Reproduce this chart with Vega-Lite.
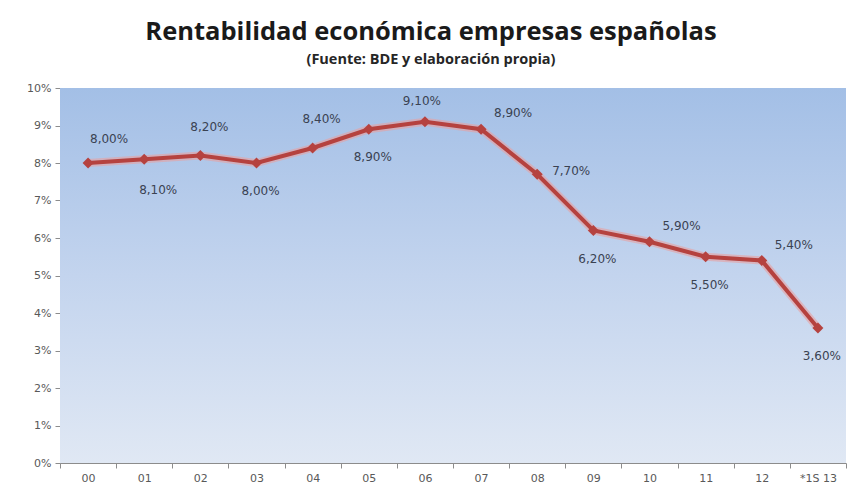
{
  "$schema": "https://vega.github.io/schema/vega-lite/v6.json",
  "width": 786,
  "height": 375,
  "autosize": {"type": "none"},
  "padding": {"left": 60, "top": 88, "right": 1, "bottom": 31},
  "background": "white",
  "config": {
    "locale": {"number": {"decimal": ",", "thousands": ".", "grouping": [3], "currency": ["", " €"]}},
    "view": {"stroke": null},
    "axis": {"domainColor": "#8c8c8c", "tickColor": "#8c8c8c", "labelColor": "#595959", "labelFont": "DejaVu Sans", "labelFontSize": 11, "grid": false, "title": null, "tickSize": 5}
  },
  "title": {
    "text": "Rentabilidad económica empresas españolas",
    "subtitle": "(Fuente: BDE y elaboración propia)",
    "font": "Open Sans",
    "fontSize": 25.5,
    "fontWeight": "bold",
    "color": "#1a1a1a",
    "subtitleFont": "Open Sans",
    "subtitleFontSize": 14.5,
    "subtitleFontWeight": "bold",
    "subtitleColor": "#262626",
    "subtitlePadding": 7,
    "anchor": "middle",
    "dx": -22,
    "offset": 16
  },
  "data": {
    "values": [
      {"year": "00", "value": 0.080},
      {"year": "01", "value": 0.081},
      {"year": "02", "value": 0.082},
      {"year": "03", "value": 0.080},
      {"year": "04", "value": 0.084},
      {"year": "05", "value": 0.089},
      {"year": "06", "value": 0.091},
      {"year": "07", "value": 0.089},
      {"year": "08", "value": 0.077},
      {"year": "09", "value": 0.062},
      {"year": "10", "value": 0.059},
      {"year": "11", "value": 0.055},
      {"year": "12", "value": 0.054},
      {"year": "*1S 13", "value": 0.036}
    ]
  },
  "encoding": {
    "x": {"field": "year", "type": "nominal", "sort": null,
      "scale": {"type": "band", "paddingInner": 0, "paddingOuter": 0},
      "axis": {"labelAngle": 0, "tickBand": "extent", "labelPadding": 4}},
    "y": {"field": "value", "type": "quantitative",
      "scale": {"domain": [0, 0.1], "nice": false},
      "axis": {"format": ".0%", "values": [0, 0.01, 0.02, 0.03, 0.04, 0.05, 0.06, 0.07, 0.08, 0.09, 0.1], "labelPadding": 4}}
  },
  "layer": [
    {
      "mark": {"type": "rect", "color": {"gradient": "linear", "x1": 0, "y1": 0, "x2": 0, "y2": 1,
        "stops": [{"offset": 0, "color": "#a3bfe6"}, {"offset": 0.5, "color": "#c3d4ee"}, {"offset": 1, "color": "#e0e8f4"}]}},
      "encoding": {"x": null, "y": {"datum": 0.1, "type": "quantitative"}, "y2": {"datum": 0}}
    },
    {"mark": {"type": "line", "color": "#e8a0a0", "strokeWidth": 8, "opacity": 0.6}},
    {"mark": {"type": "line", "color": "#b5423f", "strokeWidth": 4}},
    {"mark": {"type": "point", "shape": "diamond", "filled": true, "color": "#b5423f", "size": 120, "opacity": 1}},
    {
      "transform": [{"filter": {"field": "year", "oneOf": ["00"]}}],
      "mark": {"type": "text", "dx": 21, "dy": -24, "font": "DejaVu Sans", "fontSize": 12, "color": "#3a4252"},
      "encoding": {"text": {"field": "value", "format": ".2%"}}
    },
    {
      "transform": [{"filter": {"field": "year", "oneOf": ["02", "04"]}}],
      "mark": {"type": "text", "dx": 9, "dy": -29, "font": "DejaVu Sans", "fontSize": 12, "color": "#3a4252"},
      "encoding": {"text": {"field": "value", "format": ".2%"}}
    },
    {
      "transform": [{"filter": {"field": "year", "oneOf": ["06"]}}],
      "mark": {"type": "text", "dx": -3, "dy": -21, "font": "DejaVu Sans", "fontSize": 12, "color": "#3a4252"},
      "encoding": {"text": {"field": "value", "format": ".2%"}}
    },
    {
      "transform": [{"filter": {"field": "year", "oneOf": ["01"]}}],
      "mark": {"type": "text", "dx": 14, "dy": 31, "font": "DejaVu Sans", "fontSize": 12, "color": "#3a4252"},
      "encoding": {"text": {"field": "value", "format": ".2%"}}
    },
    {
      "transform": [{"filter": {"field": "year", "oneOf": ["03", "05", "09", "11", "*1S 13"]}}],
      "mark": {"type": "text", "dx": 4, "dy": 28, "font": "DejaVu Sans", "fontSize": 12, "color": "#3a4252"},
      "encoding": {"text": {"field": "value", "format": ".2%"}}
    },
    {
      "transform": [{"filter": {"field": "year", "oneOf": ["07", "10", "12"]}}],
      "mark": {"type": "text", "dx": 32, "dy": -16, "font": "DejaVu Sans", "fontSize": 12, "color": "#3a4252"},
      "encoding": {"text": {"field": "value", "format": ".2%"}}
    },
    {
      "transform": [{"filter": {"field": "year", "oneOf": ["08"]}}],
      "mark": {"type": "text", "dx": 34, "dy": -3, "font": "DejaVu Sans", "fontSize": 12, "color": "#3a4252"},
      "encoding": {"text": {"field": "value", "format": ".2%"}}
    }
  ]
}
